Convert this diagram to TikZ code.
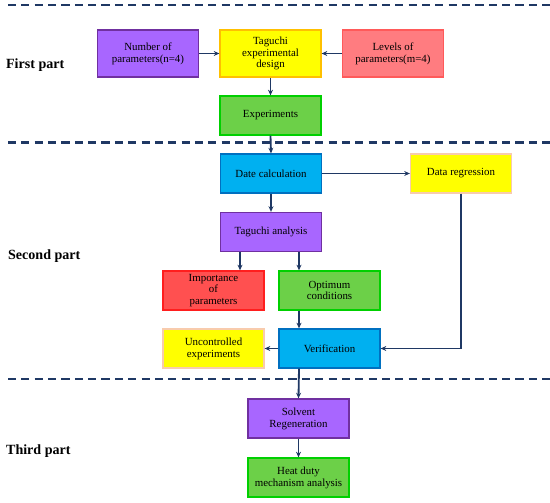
\documentclass[tikz,border=0pt]{standalone}
\usepackage{fontspec}
\setmainfont{Liberation Serif}
\usetikzlibrary{arrows.meta,positioning,calc}
\definecolor{NavyLine}   {RGB}{ 31, 56,100}
\definecolor{BoxPurple}  {RGB}{168,102,255}
\definecolor{EdgePurple} {RGB}{112, 48,160}
\definecolor{BoxYellow}  {RGB}{255,255,  0}
\definecolor{EdgeOrange} {RGB}{255,192,  0}
\definecolor{EdgePeach}  {RGB}{248,203,173}
\definecolor{BoxSalmon}  {RGB}{255,124,128}
\definecolor{EdgeSalmon} {RGB}{255, 90, 90}
\definecolor{BoxGreen}   {RGB}{108,208, 72}
\definecolor{EdgeGreen}  {RGB}{  0,208,  0}
\definecolor{BoxBlue}    {RGB}{  0,176,240}
\definecolor{EdgeBlue}   {RGB}{  0,112,192}
\definecolor{BoxRed}     {RGB}{255, 80, 80}
\definecolor{EdgeRed}    {RGB}{255, 30, 30}
\tikzset{
  %% 流程方框
  tbox/.style={rectangle,line width=1.8pt,
               minimum width=5.05cm,minimum height=1.95cm,inner sep=1pt,
               font=\fontsize{15.5}{16.8}\selectfont,align=center},
  tallbox/.style={tbox,minimum height=2.35cm},
  pbox/.style={tbox,draw=EdgePurple,fill=BoxPurple},
  ybox/.style={tbox,draw=EdgePeach,fill=BoxYellow},
  sbox/.style={tbox,draw=EdgeSalmon,fill=BoxSalmon},
  gbox/.style={tbox,draw=EdgeGreen,fill=BoxGreen},
  bbox/.style={tbox,draw=EdgeBlue,fill=BoxBlue},
  rbox/.style={tbox,draw=EdgeRed,fill=BoxRed},
  %% 分区标题
  partlbl/.style={anchor=west,inner sep=0pt,
                  font=\fontsize{20}{24}\selectfont\bfseries},
  %% 箭头与分隔线
  flarr/.style={-{Stealth[length=8pt,width=7pt]},line width=2.6pt,color=NavyLine},
  sepline/.style={line width=3pt,color=NavyLine,dash pattern=on 11.5pt off 7.5pt},
}
\begin{document}
\begin{tikzpicture}[x=0.05cm,y=-0.05cm]
        \useasboundingbox (0,0) rectangle (550,503);
        %% 分隔线
        \coordinate (S1a) at (8,5);   \coordinate (S1b) at (550,5);
        \coordinate (S2a) at (8,142.5); \coordinate (S2b) at (550,142.5);
        \coordinate (S3a) at (8,379); \coordinate (S3b) at (550,379);
        \draw[sepline] (S1a) -- (S1b);
        \draw[sepline] (S2a) -- (S2b);
        \draw[sepline] (S3a) -- (S3b);

        \node[partlbl] (P1) at (6,65)  {First part};
        \node[partlbl] (P2) at (8,256) {Second part};
        \node[partlbl] (P3) at (6,451) {Third part};

        %% First part
        \node[pbox,tallbox] (NUM) at (148,53.5) {Number of\\parameters(n=4)};
        \node[ybox,tallbox,draw=EdgeOrange] (DES) at (270.5,53.5)
              {Taguchi\\experimental\\design};
        \node[sbox,tallbox] (LEV) at (393,53.5) {Levels of\\parameters(m=4)};
        \node[gbox] (EXP) at (270.5,115.5) {Experiments};

        %% Second part
        \node[bbox] (CAL) at (271,173.5) {Date calculation};
        \node[ybox] (REG) at (461,173.5) {Data regression};
        \node[pbox] (ANA) at (271,232)   {Taguchi analysis};
        \node[rbox] (IMP) at (213.5,290.5) {Importance\\of\\parameters};
        \node[gbox] (OPT) at (329.5,290.5) {Optimum\\conditions};
        \node[ybox] (UNC) at (213.5,348.5) {Uncontrolled\\experiments};
        \node[bbox] (VER) at (329.5,348.5) {Verification};

        %% Third part
        \node[pbox] (SOL) at (298.5,418.5) {Solvent\\Regeneration};
        \node[gbox] (HEAT) at (298.5,477.5) {Heat duty\\mechanism analysis};

        \draw[flarr] (NUM.east) -- (DES.west);
        \draw[flarr] (LEV.west) -- (DES.east);
        \draw[flarr] (DES.south) -- (EXP.north);
        \draw[flarr] (EXP.south) -- (CAL.north);
        \draw[flarr] (CAL.east) -- (REG.west);
        \draw[flarr] (CAL.south) -- (ANA.north);
        \draw[flarr] ([xshift=1.325cm]IMP.north |- ANA.south) -- ([xshift=1.325cm]IMP.north);
        \draw[flarr] ([xshift=-1.525cm]OPT.north |- ANA.south) -- ([xshift=-1.525cm]OPT.north);
        \draw[flarr] ([xshift=-1.525cm]OPT.south) -- ([xshift=-1.525cm]VER.north);
        \draw[flarr] (REG.south) |- (VER.east);
        \draw[flarr] (VER.west) -- (UNC.east);
        \draw[flarr] ([xshift=-1.525cm]VER.south) -- (SOL.north);
        \draw[flarr] (SOL.south) -- (HEAT.north);
      \end{tikzpicture}
\end{document}
